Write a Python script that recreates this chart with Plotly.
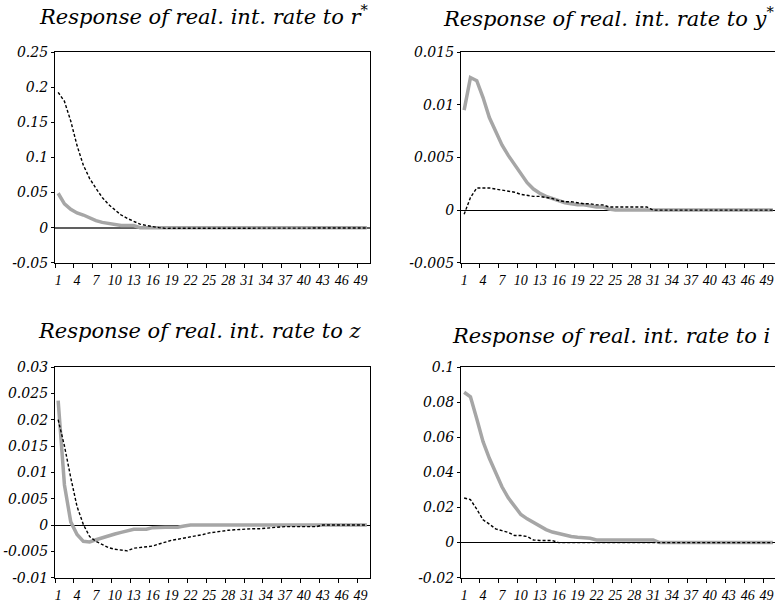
import plotly.graph_objects as go

periods = list(range(1, 51))

# Response of real. int. rate to r*
tl_solid = [0.049, 0.034, 0.026, 0.021, 0.018, 0.014, 0.010, 0.0075, 0.006, 0.0045,
            0.003, 0.003, 0.003] + [0.0] * 37
tl_dotted = [0.193, 0.180, 0.152, 0.117, 0.089, 0.070, 0.056, 0.043, 0.033, 0.025,
             0.018, 0.013, 0.009, 0.005, 0.003, 0.001, 0.0] + [-0.001] * 18 + [-0.0005] * 15

# Response of real. int. rate to y*
tr_solid = [0.0095, 0.0126, 0.0123, 0.0107, 0.0088, 0.0074, 0.0062, 0.0052, 0.0043, 0.0034,
            0.0026, 0.0020, 0.0016, 0.0013, 0.0011, 0.0009, 0.0007, 0.0006, 0.0005, 0.0005,
            0.0004, 0.0003, 0.0003, 0.0001] + [0.0] * 26
tr_dotted = [-0.0004, 0.0012, 0.0021, 0.0021, 0.0021, 0.0020, 0.0019, 0.0018, 0.0017, 0.0015,
             0.0014, 0.0013, 0.0013, 0.0012, 0.0011, 0.0009, 0.0008, 0.0008, 0.0007, 0.0006,
             0.0006, 0.0005, 0.0005] + [0.0003] * 7 + [0.0] * 20

# Response of real. int. rate to z
bl_solid = [0.0236, 0.0076, 0.0006, -0.0018, -0.0031, -0.0032, -0.0028, -0.0024, -0.0020, -0.0017,
            -0.0014, -0.0011, -0.0008, -0.0008, -0.0008, -0.0005, -0.0004, -0.0004, -0.0004, -0.0004,
            -0.0002] + [0.0] * 29
bl_dotted = [0.0200, 0.0150, 0.0090, 0.0035, 0.0001, -0.0022, -0.0031, -0.0037, -0.0043, -0.0046,
             -0.0048, -0.0049, -0.0044, -0.0043, -0.0041, -0.0040, -0.0036, -0.0032, -0.0029, -0.0027,
             -0.0025, -0.0023, -0.0021, -0.0018, -0.0015, -0.0013, -0.0011, -0.0010, -0.0009, -0.0008,
             -0.0008, -0.0007, -0.0007, -0.0006, -0.0005] + [-0.0003] * 7 + [0.0] * 8

# Response of real. int. rate to i
br_solid = [0.0856, 0.0830, 0.0705, 0.0575, 0.0480, 0.0395, 0.0318, 0.0255, 0.0205, 0.0160,
            0.0135, 0.0115, 0.0095, 0.0074, 0.0060, 0.0050, 0.0040, 0.0035, 0.0030, 0.0025,
            0.0025] + [0.0015] * 10 + [0.0] * 19
br_dotted = [0.0254, 0.0245, 0.0190, 0.0130, 0.0105, 0.0078, 0.0068, 0.0058, 0.0040, 0.0040,
             0.0035, 0.0015, 0.0012, 0.0012, 0.0012] + [0.0] * 35

titles = ["Response of real. int. rate to r<sup>*</sup>",
          "Response of real. int. rate to y<sup>*</sup>",
          "Response of real. int. rate to z",
          "Response of real. int. rate to i"]

x_tickvals = list(range(1, 50, 3))
x_ticktext = [str(v) for v in x_tickvals]

tl_yvals = [-0.05, 0, 0.05, 0.1, 0.15, 0.2, 0.25]
tl_ytext = ["-0.05", "0", "0.05", "0.1", "0.15", "0.2", "0.25"]
tr_yvals = [-0.005, 0, 0.005, 0.01, 0.015]
tr_ytext = ["-0.005", "0", "0.005", "0.01", "0.015"]
bl_yvals = [-0.01, -0.005, 0, 0.005, 0.01, 0.015, 0.02, 0.025, 0.03]
bl_ytext = ["-0.01", "-0.005", "0", "0.005", "0.01", "0.015", "0.02", "0.025", "0.03"]
br_yvals = [-0.02, 0, 0.02, 0.04, 0.06, 0.08, 0.1]
br_ytext = ["-0.02", "0", "0.02", "0.04", "0.06", "0.08", "0.1"]

W, H = 775, 604
GREY = "#a6a6a6"

fig = go.Figure()

panels = [
    (tl_solid, tl_dotted, "x", "y"),
    (tr_solid, tr_dotted, "x2", "y2"),
    (bl_solid, bl_dotted, "x3", "y3"),
    (br_solid, br_dotted, "x4", "y4"),
]
for s, d, xa, ya in panels:
    fig.add_trace(go.Scatter(x=periods, y=s, mode="lines", xaxis=xa, yaxis=ya,
                             line=dict(color=GREY, width=3.5), showlegend=False))
    fig.add_trace(go.Scatter(x=periods, y=d, mode="lines", xaxis=xa, yaxis=ya,
                             line=dict(color="black", width=1.4, dash="3px,2px"),
                             showlegend=False))

def px_x(p):
    return p / W

def px_y(p):
    return 1 - p / H

xfont = dict(family="Liberation Serif", size=14, color="black", style="italic")
yfont = dict(family="DejaVu Serif", size=14, color="black", style="italic")

def xaxis(dom, rng, anchor):
    return dict(domain=dom, range=rng, anchor=anchor, showgrid=False, zeroline=False,
                showline=True, linecolor="black", linewidth=1.3, mirror=True,
                tickmode="array", tickvals=x_tickvals, ticktext=x_ticktext,
                ticks="outside", ticklen=4, tickcolor="rgba(0,0,0,0)",
                tickfont=xfont, tickangle=0,
                minor=dict(tick0=0.5, dtick=3, ticks="outside", ticklen=4,
                           tickcolor="black", tickwidth=1, showgrid=False),
                fixedrange=True, automargin=False)

def yaxis(dom, rng, vals, text, anchor, mirror, zc="black", zw=1):
    return dict(domain=dom, range=rng, anchor=anchor, showgrid=False,
                zeroline=True, zerolinecolor=zc, zerolinewidth=zw,
                showline=True, linecolor="black", linewidth=1.3, mirror=mirror,
                tickmode="array", tickvals=vals, ticktext=text,
                ticks="outside", ticklen=3, tickcolor="black",
                tickfont=yfont, fixedrange=True, automargin=False)

left_dom = [px_x(55), px_x(370)]
right_dom = [px_x(461), 1.0]
top_dom = [px_y(262.7), px_y(52.3)]
bot_dom = [px_y(577.7), px_y(367)]
right_rng = [0.5, 0.5 + (W - 461) / 6.3]

fig.update_layout(
    width=W, height=H,
    margin=dict(l=0, r=0, t=0, b=0),
    paper_bgcolor="white", plot_bgcolor="white",
    xaxis=xaxis(left_dom, [0.5, 50.5], "y"),
    xaxis2=xaxis(right_dom, right_rng, "y2"),
    xaxis3=xaxis(left_dom, [0.5, 50.5], "y3"),
    xaxis4=xaxis(right_dom, right_rng, "y4"),
    yaxis=yaxis(top_dom, [-0.05, 0.25], tl_yvals, tl_ytext, "x", True, "#606060", 2),
    yaxis2=yaxis(top_dom, [-0.005, 0.015], tr_yvals, tr_ytext, "x2", False),
    yaxis3=yaxis(bot_dom, [-0.01, 0.03], bl_yvals, bl_ytext, "x3", True),
    yaxis4=yaxis(bot_dom, [-0.02, 0.1], br_yvals, br_ytext, "x4", False),
)

title_pos = [(204, 15), (608, 17), (200, 330.5), (611, 336)]
for t, (cx, cy) in zip(titles, title_pos):
    fig.add_annotation(text=t, xref="paper", yref="paper", x=px_x(cx), y=px_y(cy),
                       xanchor="center", yanchor="middle", showarrow=False,
                       font=dict(family="DejaVu Serif", size=21, color="black",
                                 style="italic"))

fig.write_html("out.html", config={"displayModeBar": False},
               post_script="document.body.style.margin='0';document.body.style.overflow='hidden';")
